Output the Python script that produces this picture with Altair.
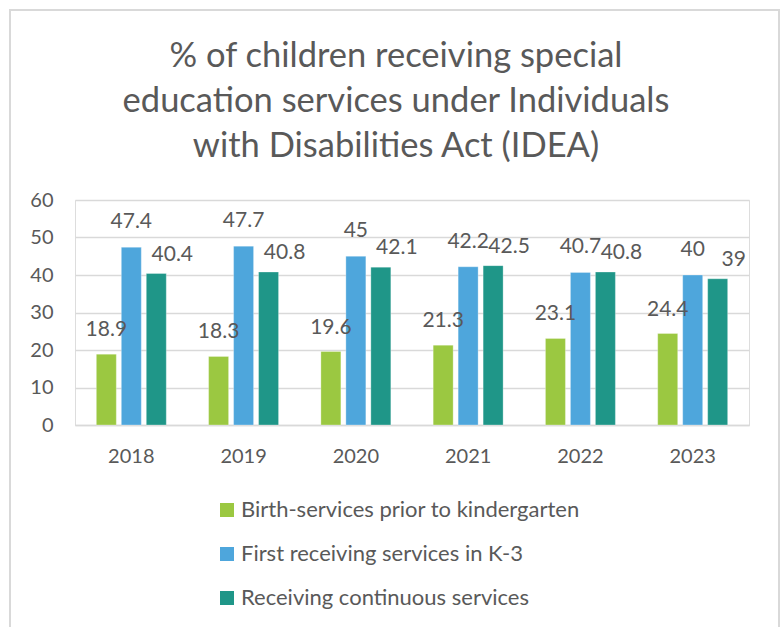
import altair as alt
import pandas as pd

years = ["2018", "2019", "2020", "2021", "2022", "2023"]
series = [
    "Birth-services prior to kindergarten",
    "First receiving services in K-3",
    "Receiving continuous services",
]
birth = [18.9, 18.3, 19.6, 21.3, 23.1, 24.4]
k3 = [47.4, 47.7, 45.0, 42.2, 40.7, 40.0]
continuous = [40.4, 40.8, 42.1, 42.5, 40.8, 39.0]
colors = ["#9BC841", "#4EA6DC", "#1F9688"]
title_lines = ["% of children receiving special", "education services under Individuals",
               "with Disabilities Act (IDEA)"]
y_ticks = [0, 10, 20, 30, 40, 50, 60]

rows = []
for s, vals in zip(series, [birth, k3, continuous]):
    for y, v in zip(years, vals):
        rows.append({"year": y, "series": s, "value": v, "label": f"{v:g}"})
df = pd.DataFrame(rows)

FONT = "Lato"
TXT = "#595959"
GRID = "#D9D9D9"

base = alt.Chart(df).encode(
    x=alt.X("year:N", sort=years,
            scale=alt.Scale(paddingInner=0.377, paddingOuter=0.19),
            axis=alt.Axis(title=None, labelAngle=0, ticks=False, domainColor=GRID,
                          domainWidth=1.5, labelFont=FONT, labelFontSize=20,
                          labelColor=TXT, labelPadding=21, grid=False)),
    xOffset=alt.XOffset("series:N", sort=series,
                        scale=alt.Scale(paddingInner=0.2, paddingOuter=0)),
    y=alt.Y("value:Q", scale=alt.Scale(domain=[0, 60]),
            axis=alt.Axis(title=None, values=y_ticks,
                          ticks=False, domain=False, gridColor=GRID, gridWidth=1.5,
                          labelOverlap=False, labelFont=FONT, labelFontSize=20,
                          labelColor=TXT, labelPadding=22)),
)

bars = base.mark_bar(stroke="white", strokeWidth=0.5, strokeOpacity=0.6).encode(
    color=alt.Color("series:N", sort=series,
                    scale=alt.Scale(domain=series, range=colors),
                    legend=alt.Legend(title=None, orient="none", legendX=141, legendY=299,
                                      direction="vertical", symbolType="square",
                                      symbolSize=196, symbolStrokeWidth=0,
                                      labelFont=FONT, labelFontSize=22, labelColor=TXT,
                                      labelLimit=500, rowPadding=22, labelOffset=3)),
)

offsets = [(0, -24), (0, -25), (16, -19)]
labels = []
for s, (dx, dy) in zip(series, offsets):
    labels.append(
        base.transform_filter(alt.datum.series == s)
        .mark_text(font=FONT, fontSize=21, color=TXT, dx=dx, dy=dy, baseline="middle")
        .encode(text="label:N")
    )

frame = alt.Chart(pd.DataFrame({"a": [0]})).mark_rect(
    fill="white", fillOpacity=0, stroke=GRID, strokeWidth=2
).encode(x=alt.value(-65), x2=alt.value(704), y=alt.value(-190), y2=alt.value(460))

title = alt.Chart(pd.DataFrame({"a": [0]})).mark_text(
    text=title_lines, font=FONT, fontSize=34.5, color=TXT, lineHeight=45,
    align="center", baseline="alphabetic"
).encode(x=alt.value(321), y=alt.value(-133))

chart = alt.layer(frame, title, bars, *labels).properties(
    width=674, height=225,
    padding={"left": 75, "top": 200, "right": 33, "bottom": 202},
    autosize=alt.AutoSizeParams(type="none"),
).configure_view(stroke=None).configure(background="white")

chart.save("out.html", embed_options={"renderer": "svg", "actions": False})
